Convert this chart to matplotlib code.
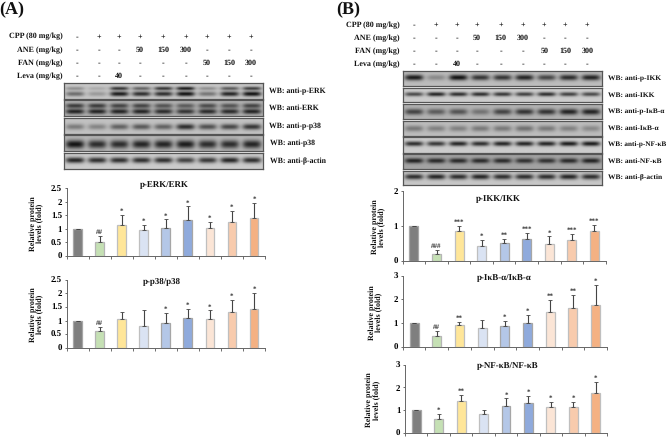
import numpy as np
import matplotlib
matplotlib.use('Agg')
import matplotlib.pyplot as plt

plt.rcParams['font.family'] = ['Liberation Serif', 'DejaVu Serif']
plt.rcParams['font.weight'] = 'bold'
plt.rcParams['text.hinting'] = 'no_hinting'

W, H = 668, 438

# treatment table
cpp = ['-', '+', '+', '+', '+', '+', '+', '+', '+']
ane = ['-', '-', '-', '50', '150', '300', '-', '-', '-']
fan = ['-', '-', '-', '-', '-', '-', '50', '150', '300']
leva = ['-', '-', '40', '-', '-', '-', '-', '-', '-']
row_names = ['CPP (80 mg/kg)', 'ANE (mg/kg)', 'FAN (mg/kg)', 'Leva (mg/kg)']
colors = ['#7f7f7f', '#c5e0b4', '#ffe699', '#dae3f3', '#b4c7e7', '#8faadc', '#fbe5d6', '#f8cbad', '#f4b183']
edges = ['#a6a6a6', '#b5b5b5', '#bfbfbf', '#bfbfbf', '#a6a6a6', '#a6a6a6', '#bfbfbf', '#bfbfbf', '#bfbfbf']

# bar values, error bar tops and significance marks
erk_vals = [1, .5, 1.15, .95, 1.03, 1.32, 1.05, 1.24, 1.39]
erk_tops = [1, .73, 1.53, 1.16, 1.35, 1.83, 1.27, 1.68, 1.95]
erk_sig = ['', '##', '*', '*', '*', '*', '*', '*', '*']
p38_vals = [1, .6, 1.07, .78, .89, 1.1, 1.07, 1.3, 1.44]
p38_tops = [1, .75, 1.33, 1.37, 1.27, 1.43, 1.37, 1.77, 2.0]
p38_sig = ['', '##', '', '', '*', '*', '*', '*', '*']
ikk_vals = [1, .2, .84, .42, .5, .63, .48, .6, .85]
ikk_tops = [1, .31, .99, .59, .64, .81, .7, .76, 1.03]
ikk_sig = ['', '###', '***', '*', '**', '***', '*', '***', '***']
ikb_vals = [1, .45, .92, .78, .86, 1.0, 1.48, 1.63, 1.75]
ikb_tops = [1, .65, 1.03, 1.13, 1.09, 1.33, 1.97, 2.17, 2.62]
ikb_sig = ['', '##', '**', '', '*', '*', '**', '**', '*']
nfkb_vals = [1, .63, 1.4, .82, 1.17, 1.33, 1.13, 1.16, 1.74]
nfkb_tops = [1, .82, 1.69, 1.03, 1.52, 1.63, 1.38, 1.38, 2.25]
nfkb_sig = ['', '*', '**', '', '*', '*', '*', '*', '*']

# band darkness per lane, read from the blots
a_perk_up = [.3, .15, .8, .55, .8, .95, .3, .6, .75]
a_perk_lo = [.5, .25, .95, .85, .85, 1, .45, .9, 1]
a_erk_up = [.75, .75, .7, .7, .6, .55, .65, .6, .7]
a_erk_lo = [.9, .9, .9, .9, .85, .8, .85, .85, .9]
a_pp38 = [.4, .35, .55, .6, .55, .85, .65, .7, .8]
a_p38 = [1, .85, .85, .9, .9, .95, .85, .85, .9]
a_actin = [.9, .85, .85, .85, .85, .75, .8, .9, .85]
b_pikk = [.95, .3, 1, .8, .8, .9, .7, .85, .9]
b_ikk = [.7, .9, .85, .85, .8, .75, .85, .75, .7]
b_pikb = [.7, .55, .6, .4, .7, .8, .8, .9, .9]
b_ikb = [.4, .35, .35, .4, .4, .45, .4, .35, .3]
b_pnfkb = [.85, .8, .9, .85, .9, .9, .9, .95, .95]
b_nfkb = [.9, .85, .85, .85, .85, .8, .8, .85, .9]
b_actin = [.85, .9, .85, .9, .85, .85, .85, .9, .85]

fig = plt.figure(figsize=(W / 100, H / 100), dpi=100)


def box_ax(x0, y0, x1, y1):
    # axes from a pixel box, y counted from the top
    return fig.add_axes([x0 / W, 1 - y1 / H, (x1 - x0) / W, (y1 - y0) / H])


def txt(x, y, s, size=5.8, **kw):
    kw.setdefault('ha', 'center')
    kw.setdefault('va', 'center')
    fig.text(x / W, 1 - y / H, s, fontsize=size, fontweight='bold', color='#111111', **kw)


def blot(box, bands, bg, label, label_x, label_size=5.6):
    ax = box_ax(*box)
    ny, nx = 48, 200
    xx = (np.arange(nx) + .5) / nx * 9
    yy = (np.arange(ny) + .5) / ny
    dark = np.zeros((ny, nx))
    for pos, sigma, strength in bands:
        for i, s in enumerate(strength):
            lane = np.exp(-((xx - i - .5) / .42) ** 4)
            dark += s * np.outer(np.exp(-((yy - pos) / sigma) ** 2), lane)
    img = bg * (1 - np.clip(dark, 0, 1)) + .08 * np.clip(dark, 0, 1)
    ax.imshow(img, cmap='gray', vmin=0, vmax=1, aspect='auto', extent=(0, 9, 1, 0))
    ax.set_xticks([])
    ax.set_yticks([])
    for sp in ax.spines.values():
        sp.set_color('#555555')
        sp.set_linewidth(.9)
    txt(label_x, (box[1] + box[3]) / 2, label, size=label_size, ha='left')


def bars(box, vals, tops, sig, ymax, yticks, ylabels, title, title_xy, lab_x):
    ax = box_ax(*box)
    x = np.arange(9)
    ax.bar(x, vals, width=.4, color=colors, edgecolor=edges, linewidth=.9)
    err = np.array(tops) - np.array(vals)
    ax.errorbar(x, vals, yerr=[np.zeros(9), err], fmt='none', ecolor='#444444',
                elinewidth=.8, capsize=1.2, capthick=.6)
    for i in range(9):
        if sig[i]:
            ax.annotate(sig[i], (x[i], tops[i]), xytext=(0, .3), textcoords='offset points',
                        ha='center', va='bottom', fontsize=5, color='#333333')
    ax.set_xlim(-.5, 8.5)
    ax.set_ylim(0, ymax)
    ax.set_xticks(np.arange(10) - .5)
    ax.set_xticklabels([])
    ax.set_yticks(yticks)
    ax.set_yticklabels(ylabels, fontsize=6.4, fontweight='bold')
    ax.tick_params(axis='both', length=1.8, width=.6, pad=1.5, color='#555555')
    ax.patch.set_alpha(0)
    for s in ['top', 'right']:
        ax.spines[s].set_visible(False)
    for s in ['left', 'bottom']:
        ax.spines[s].set_color('#666666')
        ax.spines[s].set_linewidth(.7)
    txt(title_xy[0], title_xy[1], title, size=6.4)
    txt(lab_x, (box[1] + box[3]) / 2 + 1, 'Relative protein\nlevels (fold)', size=5.8,
        rotation=90, linespacing=1.05)


def table(lanes, rows_y, right_x):
    for name, y, row in zip(row_names, rows_y, [cpp, ane, fan, leva]):
        txt(right_x, y, name, ha='right')
        for lx, v in zip(lanes, row):
            txt(lx, y, v)


# panel A
txt(12, 10, '(A)', size=13)
table(np.array([76.7, 99, 119, 140, 163, 186, 207, 229, 251]), [36.5, 50, 63, 76], 63)
blot((64, 83, 263, 99), [(.34, .11, a_perk_up), (.68, .15, a_perk_lo)], .78, 'WB: anti-p-ERK', 269)
blot((64, 100, 263, 116), [(.36, .15, a_erk_up), (.72, .16, a_erk_lo)], .7, 'WB: anti-ERK', 269)
blot((64, 118, 263, 134), [(.55, .18, a_pp38)], .76, 'WB: anti-p-p38', 269)
blot((64, 135, 263, 151), [(.58, .26, a_p38)], .72, 'WB: anti-p38', 270)
blot((64, 153, 263, 169), [(.45, .18, a_actin)], .8, 'WB: anti-β-actin', 270)
bars((66.7, 188.3, 265, 256), erk_vals, erk_tops, erk_sig, 2.5, [0, .5, 1, 1.5, 2, 2.5],
     ['0', '0.5', '1', '1.5', '2', '2.5'], 'p-ERK/ERK', (164.3, 185), 37)
bars((66.7, 279.7, 265, 347.7), p38_vals, p38_tops, p38_sig, 2.5, [0, .5, 1, 1.5, 2, 2.5],
     ['0', '0.5', '1', '1.5', '2', '2.5'], 'p-p38/p38', (162.3, 281.7), 37)

# panel B
txt(348, 10, '(B)', size=13)
table(np.array([414, 436, 456.7, 476.7, 500.7, 522.7, 544.3, 565.3, 587.3]), [25, 38, 51, 64], 400)
blot((403, 70.7, 602, 86), [(.47, .18, b_pikk)], .74, 'WB: anti-p-IKK', 607.5, 5.4)
blot((403, 87.7, 602, 102), [(.48, .14, b_ikk)], .8, 'WB: anti-IKK', 607.5, 5.4)
blot((403, 104, 602, 119), [(.52, .2, b_pikb)], .7, 'WB: anti-p-IκB-α', 607.5, 5.3)
blot((403, 120.7, 602, 135.7), [(.5, .2, b_ikb)], .74, 'WB: anti-IκB-α', 607.5, 5.4)
blot((403, 137, 602, 152.7), [(.42, .15, b_pnfkb)], .8, 'WB: anti-p-NF-κB', 607.5, 5.2)
blot((403, 154, 602, 169), [(.45, .17, b_nfkb)], .64, 'WB: anti-NF-κB', 607.5, 5.4)
blot((403, 171, 602, 185), [(.45, .18, b_actin)], .78, 'WB: anti-β-actin', 607.5, 5.4)
bars((402.7, 190.7, 605.7, 261), ikk_vals, ikk_tops, ikk_sig, 2, [0, 1, 2], ['0', '1', '2'],
     'p-IKK/IKK', (498, 199), 379)
bars((402.7, 275.7, 607, 346.7), ikb_vals, ikb_tops, ikb_sig, 3, [0, 1, 2, 3], ['0', '1', '2', '3'],
     'p-IκB-α/IκB-α', (504, 278), 376)
bars((405, 364.7, 607, 433), nfkb_vals, nfkb_tops, nfkb_sig, 3, [0, 1, 2, 3], ['0', '1', '2', '3'],
     'p-NF-κB/NF-κB', (507.7, 365.7), 373.5)

fig.savefig('out.png', dpi=100)
